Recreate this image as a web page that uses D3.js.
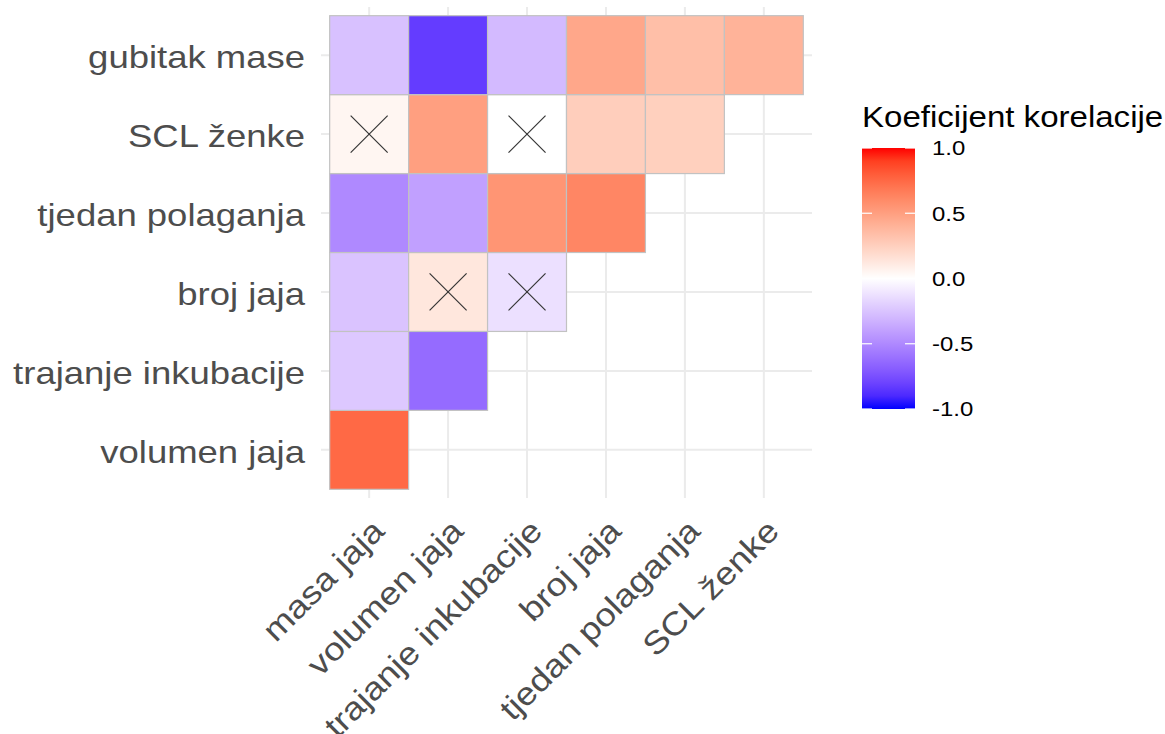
<!DOCTYPE html>
<html>
<head>
<meta charset="utf-8">
<script src="https://cdn.jsdelivr.net/npm/d3@7"></script>
<style>
  html, body { margin: 0; padding: 0; background: #fff; }
  svg { display: block; font-family: "Liberation Sans", Arial, sans-serif; }
</style>
</head>
<body>
<svg id="chart" width="1165" height="734"></svg>
<script>
// ---- data ----
const xCategories = ["masa jaja", "volumen jaja", "trajanje inkubacije", "broj jaja", "tjedan polaganja", "SCL ženke"];
const yCategories = ["volumen jaja", "trajanje inkubacije", "broj jaja", "tjedan polaganja", "SCL ženke", "gubitak mase"];
// correlation rows (lower triangle), one array per y category, values in x order
const rowVolumenJaja        = [0.75];
const rowTrajanjeInkubacije = [-0.23, -0.63];
const rowBrojJaja           = [-0.25, 0.13, -0.13];
const rowTjedanPolaganja    = [-0.50, -0.40, 0.55, 0.62];
const rowSCLZenke           = [0.05, 0.50, 0.00, 0.26, 0.25];
const rowGubitakMase        = [-0.26, -0.83, -0.29, 0.46, 0.34, 0.40];
// insignificant (crossed) cells, as [y category, x category]
const insignificant = [
  ["SCL ženke", "masa jaja"],
  ["SCL ženke", "trajanje inkubacije"],
  ["broj jaja", "volumen jaja"],
  ["broj jaja", "trajanje inkubacije"]
];
const legendTicks = [1.0, 0.5, 0.0, -0.5, -1.0];
const legendTickLabels = ["1.0", "0.5", "0.0", "-0.5", "-1.0"];
const legendTitle = "Koeficijent korelacije";

const rows = [rowVolumenJaja, rowTrajanjeInkubacije, rowBrojJaja, rowTjedanPolaganja, rowSCLZenke, rowGubitakMase];
const cells = [];
rows.forEach((r, i) => r.forEach((v, j) => cells.push({ y: yCategories[i], x: xCategories[j], v })));

// ---- layout ----
const svg = d3.select("#chart");
const SX = 1.14; // horizontal text stretch seen in the reference
const panel = { left: 321, right: 812, top: 7, bottom: 498 };

const x = d3.scaleBand().domain(xCategories).range([panel.left, panel.right]).paddingInner(0).paddingOuter(0.11);
const y = d3.scaleBand().domain(yCategories.slice().reverse()).range([panel.top, panel.bottom]).paddingInner(0).paddingOuter(0.11);
const color = d3.scaleLinear().domain([-1, 0, 1]).range(["blue", "white", "red"]).interpolate(d3.interpolateLab);

// grid
const grid = svg.append("g");
grid.selectAll("line.v").data(xCategories).join("line")
  .attr("x1", d => x(d) + x.bandwidth() / 2).attr("x2", d => x(d) + x.bandwidth() / 2)
  .attr("y1", panel.top).attr("y2", panel.bottom)
  .attr("stroke", "#ebebeb").attr("stroke-width", 2);
grid.selectAll("line.h").data(yCategories).join("line")
  .attr("y1", d => y(d) + y.bandwidth() / 2).attr("y2", d => y(d) + y.bandwidth() / 2)
  .attr("x1", panel.left).attr("x2", panel.right)
  .attr("stroke", "#ebebeb").attr("stroke-width", 2);

// tiles
svg.append("g").selectAll("rect").data(cells).join("rect")
  .attr("x", d => x(d.x)).attr("y", d => y(d.y))
  .attr("width", x.bandwidth()).attr("height", y.bandwidth())
  .attr("fill", d => color(d.v))
  .attr("stroke", "#c2c2c2").attr("stroke-width", 1.2);

// crosses
const cr = 18.5;
const crosses = svg.append("g").attr("stroke", "#333").attr("stroke-width", 1.1);
insignificant.forEach(([yc, xc]) => {
  const cx = x(xc) + x.bandwidth() / 2, cy = y(yc) + y.bandwidth() / 2;
  crosses.append("line").attr("x1", cx - cr).attr("y1", cy - cr).attr("x2", cx + cr).attr("y2", cy + cr);
  crosses.append("line").attr("x1", cx - cr).attr("y1", cy + cr).attr("x2", cx + cr).attr("y2", cy - cr);
});

// y axis labels
svg.append("g").selectAll("text").data(yCategories).join("text")
  .attr("transform", d => `translate(305,${y(d) + y.bandwidth() / 2 + 2}) scale(${SX},1)`)
  .attr("text-anchor", "end").attr("dy", "0.35em")
  .attr("font-size", 32).attr("fill", "#4d4d4d")
  .text(d => d);

// x axis labels
svg.append("g").selectAll("text").data(xCategories).join("text")
  .attr("transform", d => `translate(${x(d) + x.bandwidth() / 2},${516}) rotate(-45) scale(${SX},1)`)
  .attr("text-anchor", "end").attr("dy", "0.75em")
  .attr("font-size", 32).attr("fill", "#4d4d4d")
  .text(d => d);

// legend
const lg = { x: 862, w: 53, top: 148, bottom: 409 };
const ly = d3.scaleLinear().domain([-1, 1]).range([lg.bottom, lg.top]);
const defs = svg.append("defs");
const grad = defs.append("linearGradient").attr("id", "lgrad").attr("x1", 0).attr("y1", 1).attr("x2", 0).attr("y2", 0);
d3.range(0, 21).forEach(i => {
  const v = -1 + i * 0.1;
  grad.append("stop").attr("offset", (i / 20)).attr("stop-color", color(v));
});
svg.append("rect").attr("x", lg.x).attr("y", ly(1)).attr("width", lg.w).attr("height", ly(-1) - ly(1))
  .attr("fill", "url(#lgrad)");
const lt = svg.append("g");
legendTicks.forEach((t, i) => {
  lt.append("line").attr("x1", lg.x).attr("x2", lg.x + 10).attr("y1", ly(t)).attr("y2", ly(t))
    .attr("stroke", "#fff").attr("stroke-width", 1.2);
  lt.append("line").attr("x1", lg.x + lg.w - 10).attr("x2", lg.x + lg.w).attr("y1", ly(t)).attr("y2", ly(t))
    .attr("stroke", "#fff").attr("stroke-width", 1.2);
  lt.append("text").attr("transform", `translate(932,${ly(t)}) scale(${SX},1)`)
    .attr("dy", "0.35em").attr("font-size", 21).attr("fill", "#000")
    .text(legendTickLabels[i]);
});
svg.append("text").attr("transform", `translate(862,127) scale(${SX},1)`)
  .attr("font-size", 29).attr("fill", "#000").text(legendTitle);
</script>
</body>
</html>
